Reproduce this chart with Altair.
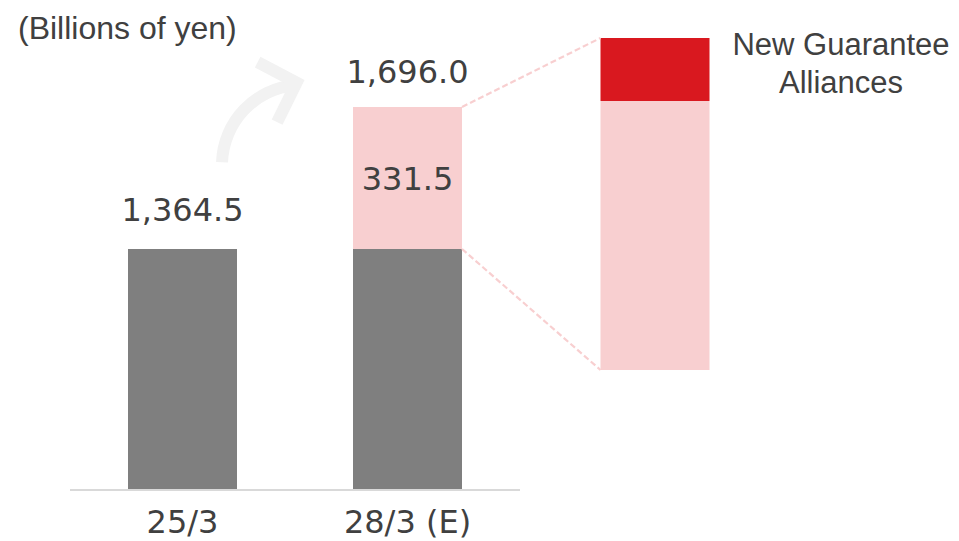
import altair as alt
import pandas as pd

# ---------------- data ----------------
categories = ["25/3", "28/3 (E)"]
base_values = [1364.5, 1364.5]
added_values = [0.0, 331.5]
total_values = [1364.5, 1696.0]
breakdown_names = ["Existing guarantees", "New Guarantee\nAlliances"]
breakdown_values = [268.5, 63.0]
unit_label = "(Billions of yen)"

# ---------------- style / layout ----------------
GRAY, PINK, RED = "#7f7f7f", "#f8cfd0", "#d9181f"
TEXT, ARROW, AXIS = "#404040", "#f2f2f2", "#d9d9d9"
NUM_FONT, SANS = "DejaVu Sans", "Liberation Sans"
W, H = 943, 533

slot = {c: i + 1.0 for i, c in enumerate(categories)}
BD_SLOT = 3.1
HALF = 109 / 225 / 2

x_scale = alt.Scale(domain=[0, 4], range=[-50.5, 849.5], padding=0, nice=False, zero=False)
y_dom = [0, total_values[0], total_values[1]]
y_rng = [481, 241, 99]
main_y = alt.Scale(domain=y_dom, range=y_rng, nice=False, zero=False, padding=0)
bd_total = sum(breakdown_values)
bd_dom = [0, bd_total]
bd_rng = [362, 30]
bd_y = alt.Scale(domain=bd_dom, range=bd_rng, nice=False, zero=False, padding=0)


def interp(v, dom, rng):
    for i in range(len(dom) - 1):
        if dom[i] <= v <= dom[i + 1]:
            t = (v - dom[i]) / (dom[i + 1] - dom[i])
            return rng[i] + t * (rng[i + 1] - rng[i])
    return rng[-1]


# bars table
rows = []
for c, b, a in zip(categories, base_values, added_values):
    rows.append({"cat": c, "seg": "base", "y0": 0.0, "y1": b, "slot": slot[c]})
    if a > 0:
        rows.append({"cat": c, "seg": "added", "y0": b, "y1": b + a, "slot": slot[c],
                     "mid": b + a / 2, "lab": f"{a:,.1f}"})
bars_df = pd.DataFrame(rows)

tot_df = pd.DataFrame({"cat": categories, "total": total_values,
                       "slot": [slot[c] for c in categories],
                       "lab": [f"{v:,.1f}" for v in total_values]})

cum = 0.0
bd_rows = []
for n, v in zip(breakdown_names, breakdown_values):
    bd_rows.append({"name": n, "y0": cum, "y1": cum + v, "slot": BD_SLOT})
    cum += v
bd_df = pd.DataFrame(bd_rows)

X = alt.X("slot:Q", scale=x_scale, axis=None)

# arrow (decoration)
arrow_arc = alt.Chart(pd.DataFrame({"a": [0]})).mark_arc(
    theta=4.747, theta2=6.196, innerRadius=74, outerRadius=86, color=ARROW
).encode(x=alt.value(294), y=alt.value(157))
arrow_head = alt.Chart(pd.DataFrame({"a": [0]})).mark_point(
    shape="M -0.698 -0.716 L 0 0 L -0.698 0.716", size=7744, angle=342,
    filled=False, stroke=ARROW, strokeWidth=12, strokeJoin="miter",
    strokeCap="butt", opacity=1
).encode(x=alt.value(288.6), y=alt.value(74.6))

bars = alt.Chart(bars_df).mark_bar(size=109).encode(
    x=X,
    y=alt.Y("y0:Q", scale=main_y, axis=None),
    y2="y1:Q",
    color=alt.Color("seg:N", scale=alt.Scale(domain=["base", "added"], range=[GRAY, PINK]), legend=None),
)

axis_line = alt.Chart(pd.DataFrame({"a": [0.5], "b": [2.5], "y": [0.0]})).mark_rule(
    color=AXIS, strokeWidth=2, yOffset=1
).encode(x=alt.X("a:Q", scale=x_scale, axis=None), x2="b:Q",
         y=alt.Y("y:Q", scale=main_y, axis=None))

bd_bars = alt.Chart(bd_df).mark_bar(size=109).encode(
    x=X,
    y=alt.Y("y0:Q", scale=bd_y, axis=None),
    y2="y1:Q",
    color=alt.Color("name:N", scale=alt.Scale(domain=breakdown_names, range=[PINK, RED]), legend=None),
)

conn_df = pd.DataFrame({"a": [slot[categories[1]] + HALF], "b": [BD_SLOT - HALF]})
conn_top = alt.Chart(conn_df).mark_rule(color=PINK, strokeWidth=2.2, strokeDash=[6, 3]).encode(
    x=alt.X("a:Q", scale=x_scale, axis=None), x2="b:Q",
    y=alt.value(interp(total_values[1], y_dom, y_rng)),
    y2=alt.value(interp(bd_total, bd_dom, bd_rng)),
)
conn_bot = alt.Chart(conn_df).mark_rule(color=PINK, strokeWidth=2.2, strokeDash=[6, 3]).encode(
    x=alt.X("a:Q", scale=x_scale, axis=None), x2="b:Q",
    y=alt.value(interp(base_values[1], y_dom, y_rng)),
    y2=alt.value(interp(0, bd_dom, bd_rng)),
)

num_style = dict(font=NUM_FONT, fontSize=32, color=TEXT, align="center", baseline="alphabetic")
tot1 = alt.Chart(tot_df).transform_filter(alt.datum.cat == categories[0]).mark_text(dy=-28, **num_style).encode(
    x=X, y=alt.Y("total:Q", scale=main_y, axis=None), text="lab:N")
tot2 = alt.Chart(tot_df).transform_filter(alt.datum.cat == categories[1]).mark_text(dy=-24, **num_style).encode(
    x=X, y=alt.Y("total:Q", scale=main_y, axis=None), text="lab:N")
add_lab = alt.Chart(bars_df[bars_df["seg"] == "added"]).mark_text(dy=12, **num_style).encode(
    x=X, y=alt.Y("mid:Q", scale=main_y, axis=None), text="lab:N")

cat_lab = alt.Chart(tot_df).mark_text(**num_style).encode(
    x=X, y=alt.value(525), text="cat:N")

unit = alt.Chart(pd.DataFrame({"t": [unit_label]})).mark_text(
    font=SANS, fontSize=32, color=TEXT, align="left", baseline="alphabetic"
).encode(x=alt.value(10), y=alt.value(31), text="t:N")

bd_lab = alt.Chart(bd_df.tail(1)).mark_text(
    font=SANS, fontSize=31, color=TEXT, align="center", baseline="alphabetic",
    lineBreak="\n", lineHeight=38, dx=186, dy=17
).encode(x=X, y=alt.Y("y1:Q", scale=bd_y, axis=None), text="name:N")

chart = alt.layer(
    arrow_arc, arrow_head, bars, axis_line, bd_bars, conn_top, conn_bot,
    tot1, tot2, add_lab, cat_lab, unit, bd_lab
).resolve_scale(y="independent", color="independent").properties(
    width=W, height=H, padding=0, autosize="none", background="white"
).configure_view(stroke=None)

chart.save("out.html", embed_options={"renderer": "svg", "actions": False})
